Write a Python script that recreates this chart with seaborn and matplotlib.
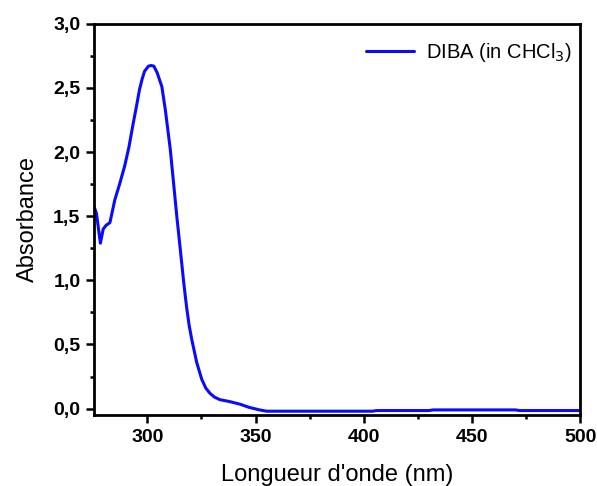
import pandas as pd
import numpy as np
import matplotlib.pyplot as plt
import seaborn as sns
from matplotlib.ticker import MultipleLocator, FuncFormatter

# spectrum
wavelength = [275.5, 276.5, 278.3, 279.6, 281.0, 282.7, 285.0, 287.0, 289.5, 291.5, 293.2,
              295.0, 296.4, 297.6, 298.7, 300.5, 301.8, 303.0, 304.5, 306.7, 308.3, 310.6,
              312.1, 313.6, 315.1, 316.7, 317.5, 318.3, 319.3, 320.5, 322.8, 325.1, 327.0,
              328.9, 331.0, 333.5, 338.0, 342.7, 347.0, 351.8, 355.0, 380.0, 404.0, 406.0,
              430.0, 432.0, 470.0, 472.0, 500.0]
absorbance = [1.57, 1.52, 1.29, 1.40, 1.43, 1.45, 1.63, 1.74, 1.89, 2.04, 2.20,
              2.36, 2.49, 2.57, 2.63, 2.67, 2.675, 2.67, 2.62, 2.51, 2.33, 2.02,
              1.76, 1.50, 1.26, 1.00, 0.88, 0.77, 0.65, 0.54, 0.36, 0.23, 0.16,
              0.12, 0.09, 0.07, 0.055, 0.035, 0.01, -0.01, -0.02, -0.02, -0.02, -0.015,
              -0.015, -0.01, -0.01, -0.015, -0.015]

df = pd.DataFrame({'wavelength': wavelength, 'absorbance': absorbance})

sns.set_style('ticks')
plt.rcParams['font.family'] = ['Liberation Sans', 'DejaVu Sans']
plt.rcParams['text.color'] = 'black'
plt.rcParams['axes.labelcolor'] = 'black'
plt.rcParams['xtick.color'] = 'black'
plt.rcParams['ytick.color'] = 'black'
plt.rcParams['axes.edgecolor'] = 'black'

fig, ax = plt.subplots(figsize=(5.97, 4.86), dpi=100)
sns.lineplot(df, x='wavelength', y='absorbance', color='#0a0aff', linewidth=2.2,
             label='DIBA (in CHCl$_3$)', ax=ax)

ax.set_xlim(275.5, 500)
ax.set_ylim(-0.05, 3.0)
ax.xaxis.set_major_locator(MultipleLocator(50))
ax.xaxis.set_minor_locator(MultipleLocator(25))
ax.yaxis.set_major_locator(MultipleLocator(0.5))
ax.yaxis.set_minor_locator(MultipleLocator(0.25))
ax.yaxis.set_major_formatter(FuncFormatter(lambda v, p: f'{v:.1f}'.replace('.', ',')))

ax.tick_params(which='major', direction='out', length=6, width=1.8, labelsize=14, pad=4)
ax.tick_params(which='minor', direction='out', length=3, width=1.8)
for lab in ax.get_xticklabels() + ax.get_yticklabels():
    lab.set_fontweight('bold')
for s in ax.spines.values():
    s.set_linewidth(2)
    s.set_visible(True)

ax.set_xlabel("Longueur d'onde (nm)", fontsize=17, labelpad=13)
ax.set_ylabel('Absorbance', fontsize=17, labelpad=10)
ax.legend(loc='upper right', bbox_to_anchor=(1.0226, 1.005), frameon=False,
          fontsize=14.5, handlelength=2.4, handletextpad=0.6, borderaxespad=0.55)

plt.subplots_adjust(left=0.158, right=0.972, top=0.951, bottom=0.146)
plt.savefig('out.png', dpi=100)
